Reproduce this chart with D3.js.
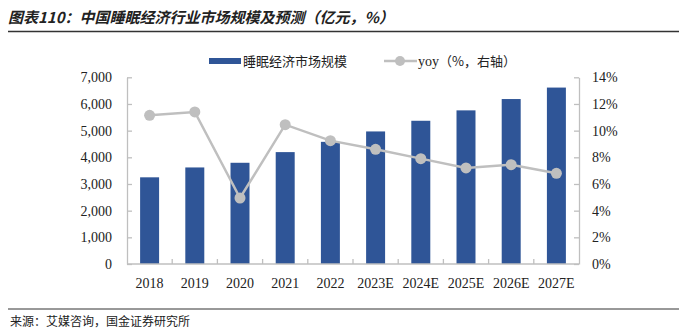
<!DOCTYPE html>
<html>
<head>
<meta charset="utf-8">
<script src="https://cdn.jsdelivr.net/npm/d3@7"></script>
<style>
  body { margin: 0; background: #fff; }
  svg { display: block; }
</style>
</head>
<body>
<svg id="chart" width="692" height="328"></svg>
<script>
// years and forecast years
var years = ["2018", "2019", "2020", "2021", "2022", "2023E", "2024E", "2025E", "2026E", "2027E"];
// market size, 亿元
var marketSize = [3250, 3620, 3795, 4195, 4580, 4970, 5370, 5760, 6185, 6615];
// growth rate, %
var yoy = [11.15, 11.4, 4.95, 10.45, 9.25, 8.6, 7.9, 7.2, 7.45, 6.8];
var leftTicks = [0, 1000, 2000, 3000, 4000, 5000, 6000, 7000];
var rightTicks = [0, 2, 4, 6, 8, 10, 12, 14];

var BAR = "#2F5597",
    LINE = "#BFBFBF",
    AXIS = "#BFBFBF",
    SERIF = "'Liberation Serif', 'Times New Roman', serif",
    CJK = "'Noto Sans CJK SC', sans-serif";

var svg = d3.select("#chart");

// title and rule below it
svg.append("text")
    .attr("x", 8)
    .attr("y", 23)
    .attr("font-family", CJK)
    .attr("font-size", 15)
    .attr("font-style", "italic")
    .attr("font-weight", "bold")
    .attr("fill", "#222")
    .text("图表110：中国睡眠经济行业市场规模及预测（亿元，%）");

svg.append("line")
    .attr("x1", 8).attr("x2", 679)
    .attr("y1", 31.5).attr("y2", 31.5)
    .attr("stroke", "#333")
    .attr("stroke-width", 1.5);

// plot area
var plotL = 127, plotR = 579, plotT = 77.3, plotB = 264;

var x = d3.scaleBand().domain(years).range([plotL, plotR]).paddingInner(0.58).paddingOuter(0.29);
var xb = d3.scaleBand().domain(years).range([plotL, plotR]);
var yL = d3.scaleLinear().domain([0, 7000]).range([plotB, plotT]);
var yR = d3.scaleLinear().domain([0, 14]).range([plotB, plotT]);

// bars
svg.append("g").selectAll("rect")
    .data(marketSize)
    .enter()
    .append("rect")
    .attr("x", (d, i) => x(years[i]))
    .attr("width", x.bandwidth())
    .attr("y", d => yL(d))
    .attr("height", d => plotB - yL(d))
    .attr("fill", BAR);

// left axis, ticks pointing inward
var gL = svg.append("g")
    .attr("transform", "translate(" + plotL + ",0)")
    .call(d3.axisRight(yL).tickValues(leftTicks).tickSize(5).tickSizeOuter(0).tickFormat(() => ""));
gL.select(".domain").attr("stroke", AXIS).attr("stroke-width", 1.3);
gL.selectAll(".tick line").attr("stroke", AXIS).attr("stroke-width", 1.3);

svg.append("g").selectAll("text")
    .data(leftTicks)
    .enter()
    .append("text")
    .attr("x", 112)
    .attr("y", d => yL(d))
    .attr("dy", "0.35em")
    .attr("text-anchor", "end")
    .attr("font-family", SERIF)
    .attr("font-size", 14)
    .attr("fill", "#222")
    .text(d => d3.format(",")(d));

// right axis
var gR = svg.append("g")
    .attr("transform", "translate(" + plotR + ",0)")
    .call(d3.axisLeft(yR).tickValues(rightTicks).tickSize(5).tickSizeOuter(0).tickFormat(() => ""));
gR.select(".domain").attr("stroke", AXIS).attr("stroke-width", 1.3);
gR.selectAll(".tick line").attr("stroke", AXIS).attr("stroke-width", 1.3);

svg.append("g").selectAll("text")
    .data(rightTicks)
    .enter()
    .append("text")
    .attr("x", 592)
    .attr("y", d => yR(d))
    .attr("dy", "0.35em")
    .attr("font-family", SERIF)
    .attr("font-size", 14)
    .attr("fill", "#222")
    .text(d => d + "%");

// bottom axis with ticks between categories
svg.append("line")
    .attr("x1", plotL).attr("x2", plotR)
    .attr("y1", plotB).attr("y2", plotB)
    .attr("stroke", AXIS).attr("stroke-width", 1.3);

svg.append("g").selectAll("line")
    .data(years.slice(1))
    .enter()
    .append("line")
    .attr("x1", d => xb(d)).attr("x2", d => xb(d))
    .attr("y1", plotB).attr("y2", plotB - 5)
    .attr("stroke", AXIS).attr("stroke-width", 1.3);

svg.append("g").selectAll("text")
    .data(years)
    .enter()
    .append("text")
    .attr("x", d => xb(d) + xb.bandwidth() / 2)
    .attr("y", 283)
    .attr("dy", "0.35em")
    .attr("text-anchor", "middle")
    .attr("font-family", SERIF)
    .attr("font-size", 14)
    .attr("fill", "#222")
    .text(d => d);

// yoy line and markers
var lineGen = d3.line()
    .x((d, i) => xb(years[i]) + xb.bandwidth() / 2)
    .y(d => yR(d));

svg.append("path")
    .attr("d", lineGen(yoy))
    .attr("fill", "none")
    .attr("stroke", LINE)
    .attr("stroke-width", 2.5);

svg.append("g").selectAll("circle")
    .data(yoy)
    .enter()
    .append("circle")
    .attr("cx", (d, i) => xb(years[i]) + xb.bandwidth() / 2)
    .attr("cy", d => yR(d))
    .attr("r", 5.5)
    .attr("fill", LINE);

// legend
var legY = 61;
svg.append("rect")
    .attr("x", 209).attr("y", legY - 3)
    .attr("width", 32).attr("height", 6)
    .attr("fill", BAR);
svg.append("text")
    .attr("x", 243).attr("y", legY)
    .attr("dy", "0.35em")
    .attr("font-family", CJK)
    .attr("font-size", 13)
    .attr("fill", "#222")
    .text("睡眠经济市场规模");

svg.append("line")
    .attr("x1", 384).attr("x2", 417)
    .attr("y1", legY).attr("y2", legY)
    .attr("stroke", LINE).attr("stroke-width", 2.5);
svg.append("circle")
    .attr("cx", 400).attr("cy", legY).attr("r", 5)
    .attr("fill", LINE);
svg.append("text")
    .attr("x", 418).attr("y", legY)
    .attr("dy", "0.35em")
    .attr("font-family", SERIF)
    .attr("font-size", 14)
    .attr("fill", "#222")
    .text("yoy")
    .append("tspan")
    .attr("font-family", CJK)
    .attr("font-size", 13)
    .text("（%，右轴）");

// source note
svg.append("line")
    .attr("x1", 8).attr("x2", 679)
    .attr("y1", 309).attr("y2", 309)
    .attr("stroke", "#333")
    .attr("stroke-width", 1);

svg.append("text")
    .attr("x", 10).attr("y", 322)
    .attr("dy", "0.35em")
    .attr("font-family", CJK)
    .attr("font-size", 12)
    .attr("fill", "#222")
    .text("来源：艾媒咨询，国金证券研究所");
</script>
</body>
</html>
